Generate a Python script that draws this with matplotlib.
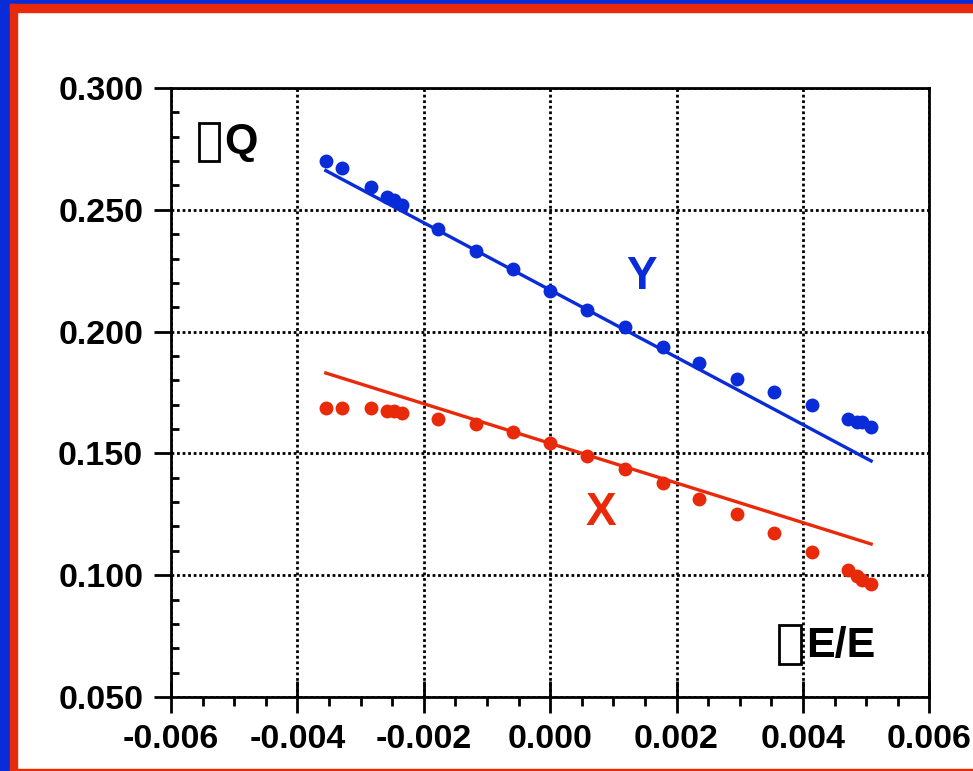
import matplotlib
matplotlib.use("Agg")
import matplotlib.pyplot as plt
from matplotlib.patches import Rectangle
from matplotlib.ticker import MultipleLocator
import numpy as np

# ---- data ----
dE = [-0.00355, -0.00329, -0.00283, -0.00258, -0.00247, -0.00235, -0.00178,
      -0.00118, -0.00059, 0.0, 0.00059, 0.00118, 0.00178, 0.00236, 0.00296,
      0.00355, 0.00414, 0.00472, 0.00486, 0.00494, 0.00508]
dQ_y = [0.2702, 0.2670, 0.2595, 0.2554, 0.2540, 0.2520, 0.2420, 0.2332, 0.2256,
        0.2167, 0.2089, 0.2018, 0.1938, 0.1872, 0.1805, 0.1752, 0.1697, 0.1641,
        0.1630, 0.1630, 0.1610]
dQ_x = [0.1685, 0.1685, 0.1685, 0.1675, 0.1675, 0.1665, 0.1641, 0.1621, 0.1588,
        0.1544, 0.1489, 0.1435, 0.1380, 0.1313, 0.1250, 0.1172, 0.1097, 0.1021,
        0.0998, 0.0980, 0.0964]
line_x = [-0.00355, 0.00508]
line_y = [0.2661, 0.1469]
line_xx = [-0.00355, 0.00508]
line_xy = [0.1830, 0.1128]

xticks = [-0.006, -0.004, -0.002, 0.000, 0.002, 0.004, 0.006]
xticklabels = ["-0.006", "-0.004", "-0.002", "0.000", "0.002", "0.004", "0.006"]
yticks = [0.050, 0.100, 0.150, 0.200, 0.250, 0.300]
yticklabels = ["0.050", "0.100", "0.150", "0.200", "0.250", "0.300"]
ylabel_text = "Q"      # preceded by a delta sign that renders as an empty box
xlabel_text = "E/E"

BLUE = "#0a2bd8"
RED = "#e82a0a"

plt.rcParams['font.family'] = ['Liberation Sans', 'DejaVu Sans']
plt.rcParams['font.weight'] = 'bold'

W, H = 973, 771
fig = plt.figure(figsize=(W / 100, H / 100), dpi=100)
fig.patch.set_facecolor("white")

# frame bands
fig.patches.append(Rectangle((0, 0), 10 / W, 1, transform=fig.transFigure, color=BLUE, zorder=0))
fig.patches.append(Rectangle((0, 1 - 4 / H), 1, 4 / H, transform=fig.transFigure, color=BLUE, zorder=0))
fig.patches.append(Rectangle((10 / W, 0), 7 / W, 1 - 4 / H, transform=fig.transFigure, color=RED, zorder=1))
fig.patches.append(Rectangle((10 / W, 1 - 12 / H), 1 - 10 / W, 8 / H, transform=fig.transFigure, color=RED, zorder=1))
fig.patches.append(Rectangle((10 / W, 0), 1 - 10 / W, 2.5 / H, transform=fig.transFigure, color=RED, zorder=1))

ax = fig.add_axes([171 / W, 1 - 697 / H, (929.3 - 171) / W, (697 - 88) / H])
ax.set_xlim(-0.006, 0.006)
ax.set_ylim(0.050, 0.300)

ax.grid(True, which='major', color='black', linestyle=(0, (1, 1)), linewidth=2)
ax.set_axisbelow(True)

ax.plot(line_x, line_y, color=BLUE, lw=2.4, zorder=3)
ax.plot(line_xx, line_xy, color=RED, lw=2.4, zorder=3)
ax.plot(dE, dQ_y, 'o', color=BLUE, ms=10, mew=0, zorder=4)
ax.plot(dE, dQ_x, 'o', color=RED, ms=10, mew=0, zorder=4)

ax.set_xticks(xticks)
ax.set_xticklabels(xticklabels)
ax.set_yticks(yticks)
ax.set_yticklabels(yticklabels)
ax.xaxis.set_minor_locator(MultipleLocator(0.0005))
ax.yaxis.set_minor_locator(MultipleLocator(0.01))

ax.tick_params(axis='x', which='major', direction='inout', length=23, width=2, pad=8, labelsize=24.5)
ax.tick_params(axis='x', which='minor', direction='out', length=6.5, width=2)
ax.tick_params(axis='y', which='major', direction='out', length=12, width=2, pad=8, labelsize=24.5)
ax.tick_params(axis='y', which='minor', direction='in', length=6, width=2)
for lab in ax.get_xticklabels() + ax.get_yticklabels():
    lab.set_fontweight('bold')

for s in ax.spines.values():
    s.set_linewidth(2)
    s.set_color('black')

# empty boxes standing for the unrendered delta sign
fig.patches.append(Rectangle((198.5 / W, 1 - 160.5 / H), 20.5 / W, 37.5 / H, transform=fig.transFigure,
                             fill=False, edgecolor='black', linewidth=2, zorder=5))
fig.patches.append(Rectangle((779 / W, 1 - 663.5 / H), 21.5 / W, 39 / H, transform=fig.transFigure,
                             fill=False, edgecolor='black', linewidth=2, zorder=5))

fig.text(224 / W, 1 - 153 / H, ylabel_text, fontsize=31, fontweight='bold', ha='left', va='baseline')
fig.text(806 / W, 1 - 657 / H, xlabel_text, fontsize=31, fontweight='bold', ha='left', va='baseline')

ax.text(0.00145, 0.2224, "Y", color=BLUE, fontsize=33, fontweight='bold', ha='center', va='center')
ax.text(0.00080, 0.1255, "X", color=RED, fontsize=33, fontweight='bold', ha='center', va='center')

fig.savefig("out.png", dpi=100, facecolor=fig.get_facecolor())
